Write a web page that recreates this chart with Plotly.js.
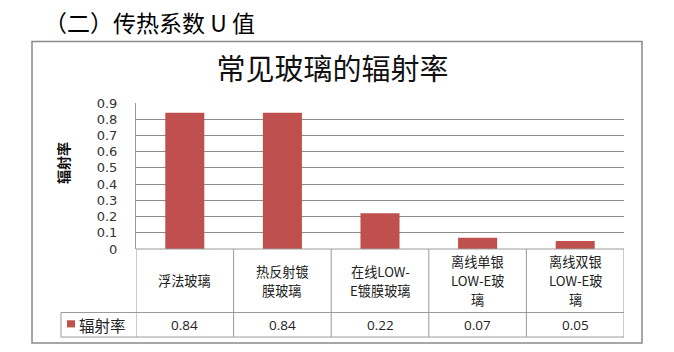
<!DOCTYPE html>
<html>
<head>
<meta charset="utf-8">
<script src="https://cdn.plot.ly/plotly-3.0.1.min.js"></script>
<style>html,body{margin:0;padding:0;background:#fff;}#chart{width:674px;height:352px;}</style>
</head>
<body>
<div id="chart"></div>
<script>
const categories = ["浮法玻璃", "热反射镀膜玻璃", "在线LOW-E镀膜玻璃", "离线单银LOW-E玻璃", "离线双银LOW-E玻璃"];
const categoryLabelLines = [["浮法玻璃"], ["热反射镀", "膜玻璃"], ["在线LOW-", "E镀膜玻璃"], ["离线单银", "LOW-E玻", "璃"], ["离线双银", "LOW-E玻", "璃"]];
const values = [0.84, 0.84, 0.22, 0.07, 0.05];
const valueLabels = ["0.84", "0.84", "0.22", "0.07", "0.05"];
const seriesName = "辐射率";
const chartTitle = "常见玻璃的辐射率";
const headerText = "（二）传热系数 U 值";

const CJK = '"Noto Sans CJK SC", "Noto Sans", sans-serif';
const red = '#C0504D';
const lineCol = '#9a9a9a';

// table geometry in paper coords (plot area 136..624 x, 103..249 y)
const rowTop = 0, rowMid = -0.435, rowBot = -0.603;
const legendLeft = -0.1537;
const lineGap = 19.2; // px between wrapped label lines

const shapes = [];
const annotations = [];

// outer chart border
shapes.push({type:'rect', xref:'paper', yref:'paper', x0:-0.2131, x1:1.0369, y0:-0.6438, y1:1.4212,
  line:{color:'#8a8a8a', width:1.5}, layer:'below'});

// table horizontal lines
shapes.push({type:'line', xref:'paper', yref:'paper', x0:0, x1:1, y0:rowTop, y1:rowTop, line:{color:lineCol, width:1}});
shapes.push({type:'line', xref:'paper', yref:'paper', x0:legendLeft, x1:1, y0:rowMid, y1:rowMid, line:{color:lineCol, width:1}});
shapes.push({type:'line', xref:'paper', yref:'paper', x0:legendLeft, x1:1, y0:rowBot, y1:rowBot, line:{color:lineCol, width:1}});
shapes.push({type:'line', xref:'paper', yref:'paper', x0:legendLeft, x1:legendLeft, y0:rowMid, y1:rowBot, line:{color:lineCol, width:1}});
// column separators, placed on the category scale
for (let i = 0; i <= categories.length; i++) {
  shapes.push({type:'line', xref:'x', yref:'paper', x0:i - 0.5, x1:i - 0.5,
    y0: rowBot, y1: rowTop, line:{color:lineCol, width:1}});
}
// legend key square
shapes.push({type:'rect', xref:'paper', yref:'paper', x0:-0.1414, x1:-0.1250, y0:-0.537, y1:-0.488,
  fillcolor:red, line:{width:0}});

// category labels (one annotation per wrapped line) and values
categories.forEach((c, i) => {
  const lines = categoryLabelLines[i];
  const n = lines.length;
  lines.forEach((ln, k) => {
    annotations.push({x:i, y:(rowTop + rowMid) / 2, xref:'x', yref:'paper', text:ln,
      yshift: ((n - 1) / 2 - k) * lineGap,
      showarrow:false, xanchor:'center', yanchor:'middle', align:'center',
      font:{family:CJK, size:13.2, color:'#222'}});
  });
  annotations.push({x:i, y:(rowMid + rowBot) / 2, xref:'x', yref:'paper', text:valueLabels[i],
    showarrow:false, xanchor:'center', yanchor:'middle',
    font:{family:'"Open Sans", "DejaVu Sans", sans-serif', size:13.5, color:'#222'}});
});
annotations.push({x:-0.1205, y:(rowMid + rowBot) / 2, xref:'paper', yref:'paper', text:seriesName,
  showarrow:false, xanchor:'left', yanchor:'middle', font:{family:CJK, size:15.5, color:'#222'}});
// y axis title
annotations.push({x:-0.1496, y:0.589, xref:'paper', yref:'paper', text:'<b>' + seriesName + '</b>',
  showarrow:false, textangle:-90, xanchor:'center', yanchor:'middle', font:{family:CJK, size:14, color:'#111'}});
// header line above the chart
annotations.push({x:0.027, y:1.555, xref:'paper', yref:'paper', text:headerText,
  showarrow:false, xanchor:'center', yanchor:'middle', font:{family:CJK, size:23, color:'#000'}});

const data = [{
  type:'bar', x:categories, y:values, name:seriesName,
  marker:{color:red}, hoverinfo:'none'
}];

const layout = {
  width:674, height:352,
  margin:{l:136, r:50, t:103, b:103},
  paper_bgcolor:'#fff', plot_bgcolor:'#fff',
  showlegend:false,
  bargap:0.6,
  title:{text:chartTitle, x:0.4027, xref:'paper', xanchor:'center', y:0.801, yref:'container', yanchor:'middle',
    font:{family:CJK, size:29, color:'#111'}},
  xaxis:{type:'category', range:[-0.5, categories.length - 0.5], showticklabels:false, showgrid:false,
    zeroline:false, showline:false, ticks:''},
  yaxis:{range:[0, 0.9], dtick:0.1, tick0:0, showgrid:true, gridcolor:'#8c8c8c', gridwidth:1,
    zeroline:false, showline:true, linecolor:lineCol, linewidth:1, ticks:'', ticklabelstandoff:15,
    tickfont:{family:'"DejaVu Sans", sans-serif', size:13, color:'#333'}},
  shapes:shapes,
  annotations:annotations
};

Plotly.newPlot('chart', data, layout, {staticPlot:true, displayModeBar:false});
</script>
</body>
</html>
